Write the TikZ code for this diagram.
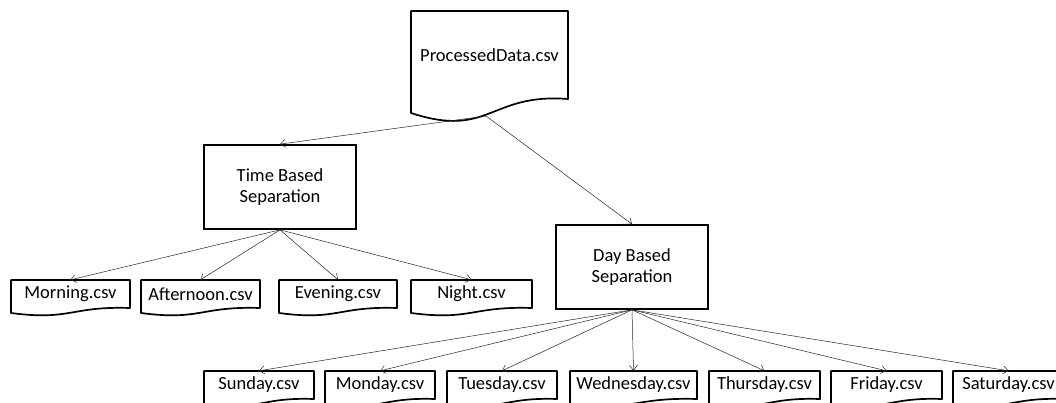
\documentclass[tikz,border=0pt]{standalone}
\usepackage{fontspec}
\setmainfont{Carlito}
\usetikzlibrary{arrows.meta}
\tikzset{
  boxline/.style={draw=black, line width=1.7pt},
  conn/.style={draw=black!85, line width=0.5pt, -{Straight Barb[length=5pt,width=8pt,line width=0.5pt]}},
  docText/.style={inner sep=0pt, font=\fontsize{18.5}{21}\selectfont, align=center},
  procbox/.style={boxline, inner sep=0pt, font=\fontsize{18.5}{21}\selectfont, align=center, minimum width=152pt, minimum height=84pt}
}
\newcommand\docbox[7]{%
  \pgfmathsetmacro\dcx{(#2+#4)/2}%
  \pgfmathsetmacro\dcy{(#3+#5)/2}%
  \pgfmathsetmacro\dcw{#4-#2}%
  \pgfmathsetmacro\dch{#5-#3}%
  \pgfmathsetmacro\dh{#5+#6-#3}%
  \node[docText, minimum width=\dcw pt, minimum height=\dch pt] (#1) at (\dcx,\dcy) {\raisebox{-2pt}{#7}};
  \draw[boxline, line join=round] (#2,#3) -- (#4,#3) -- (#4,#5) .. controls (\dcx,#5-0.06*\dh) and (\dcx,#5+0.39*\dh) .. (#2,#5+#6) -- cycle;
}
\begin{document}
\begin{tikzpicture}[x=1pt,y=-1pt]
\clip (0,0) rectangle (1056,403);
\fill[white] (0,0) rectangle (1056,403);
% top document
\docbox{pd}{411}{11}{568}{99}{14}{ProcessedData.csv}
\coordinate (pdout) at (486,116);
% separation boxes
\node[procbox] (time) at (280,187) {Time Based\\Separation};
\node[procbox] (day) at (632,267) {Day Based\\Separation};
% time leaves
\docbox{morning}{11}{280}{130}{308}{5}{Morning.csv}
\docbox{afternoon}{141}{280}{260}{308}{5}{Afternoon.csv}
\docbox{evening}{279}{280}{397}{308}{5}{Evening.csv}
\docbox{night}{411}{280}{532}{308}{5}{Night.csv}
% day leaves
\docbox{sunday}{204}{371}{314}{399}{5}{Sunday.csv}
\docbox{monday}{325}{371}{435}{399}{5}{Monday.csv}
\docbox{tuesday}{447}{371}{557}{399}{5}{Tuesday.csv}
\docbox{wednesday}{570}{371}{697}{399}{5}{Wednesday.csv}
\docbox{thursday}{709}{371}{820}{399}{5}{Thursday.csv}
\docbox{friday}{831}{371}{942}{399}{5}{Friday.csv}
\docbox{saturday}{953}{371}{1064}{399}{5}{Saturday.csv}
% connectors
\draw[conn] (pdout) -- (time.north);
\draw[conn] (pdout) -- (day.north);
\foreach \n in {morning,afternoon,evening,night}
  \draw[conn] (time.south) -- (\n.north);
\foreach \n in {sunday,monday,tuesday,wednesday,thursday,friday,saturday}
  \draw[conn] (day.south) -- (\n.north);
\end{tikzpicture}
\end{document}
